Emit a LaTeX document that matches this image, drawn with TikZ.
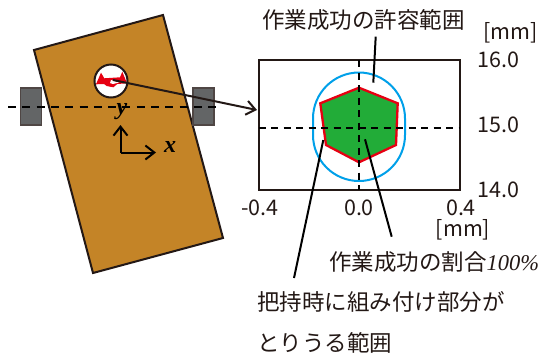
\documentclass[tikz,border=0pt]{standalone}
\usepackage{fontspec}
\setmainfont{Noto Sans CJK JP}
\newfontfamily\latinserif{Liberation Serif}
\usetikzlibrary{arrows.meta}
\definecolor{inkdark}{HTML}{231815}
\definecolor{platebrown}{HTML}{C48427}
\definecolor{grippergray}{HTML}{636566}
\definecolor{regionblue}{HTML}{00A0E9}
\definecolor{regiongreen}{HTML}{22AC38}
\definecolor{regionred}{HTML}{E60012}
\tikzset{
    label/.style={text=inkdark, inner sep=0pt, font=\fontsize{21.5}{24}\selectfont},
    caption/.style={text=inkdark, inner sep=0pt, anchor=west, font=\fontsize{22.5}{24}\selectfont},
    leader/.style={draw=black, line width=2pt},
    crossline/.style={draw=black, line width=2pt, dash pattern=on 7pt off 5.5pt},
    axisarrow/.style={draw=black, line width=2pt, -{Straight Barb[length=9pt,width=14pt,line width=2pt]}},
    axisname/.style={inner sep=0pt, font=\fontsize{24}{24}\latinserif\bfseries\itshape},
}
\begin{document}
\begin{tikzpicture}[x=1pt, y=1pt, yscale=-1]
    \useasboundingbox (0,0) rectangle (541,354);

    \begin{scope}
        \coordinate (A) at (34,50);
        \coordinate (B) at (163,15);
        \coordinate (C) at (223,238);
        \coordinate (D) at (93,273);
        \draw[fill=platebrown, draw=inkdark, line width=2pt] (A)--(B)--(C)--(D)--cycle;
        \draw[fill=grippergray, draw=inkdark!80, line width=1.5pt] (20.5,88) rectangle (41.5,125);
        \draw[fill=grippergray, draw=inkdark!80, line width=1.5pt] (193,88) rectangle (214,125);
        \coordinate (L) at (8,106.5);
        \coordinate (R) at (220,106.5);
        \draw[crossline, dash pattern=on 8pt off 6.3pt] (L) -- (R);

        \draw[fill=white, draw=inkdark, line width=2pt] (111,81) circle (16.5);
        \fill[regionred] (96,84.3) -- (101,72.7) -- (104.3,78.3) -- (120,77.3) -- (122.3,71.7)
            -- (127,83.3) -- (117.3,84) -- (113.3,87.3) -- (106.7,86) -- (104,84) -- cycle;
        \fill[white] (111,80) -- (119,82.5) -- (113,84) -- (110,83) -- cycle;

        % coordinate axes of the plate
        \coordinate (O) at (120.5,152.5);
        \coordinate (X) at (156,152.5);
        \coordinate (Y) at (120.5,125);
        \draw[axisarrow] (O) -- (X);
        \draw[axisarrow] (O) -- (Y);
        \node[axisname] (xname) at (170,147) {x};
        \node[axisname] (yname) at (122,112) {y};
    \end{scope}

    \begin{scope}
        \coordinate (P) at (113,80);
        \coordinate (Q) at (257,110);
        \draw[draw=inkdark, line width=2pt, -{Straight Barb[length=9pt,width=14pt,line width=2pt]}] (P) -- (Q);
    \end{scope}

    \begin{scope}
        \draw[fill=white, draw=inkdark, line width=2pt] (258.5,60) rectangle (459.5,190);
        \draw[regionblue, line width=2pt] (313,118.5) arc (180:360:46) -- (405,135)
            arc (0:180:46) -- cycle;
        \draw[fill=regiongreen, draw=regionred, line width=2.3pt]
            (359,87.7)--(397.7,103.3)--(396,145)--(359,162.3)--(326,145)--(320.3,103.3)--cycle;
        \coordinate (HL) at (258.5,128);
        \coordinate (HR) at (459.5,128);
        \coordinate (VT) at (359,60);
        \coordinate (VB) at (359,190);
        \draw[crossline] (HL) -- (HR);
        \draw[crossline] (VT) -- (VB);

        \node[label, anchor=west] (y16) at (477,60) {16.0};
        \node[label, anchor=west] (y15) at (477,125) {15.0};
        \node[label, anchor=west] (y14) at (477,190) {14.0};
        \node[label, anchor=west] (ymm) at (483,33) {[mm]};
        \node[label] (xm) at (260,208) {-0.4};
        \node[label] (x0) at (359,208) {0.0};
        \node[label] (xp) at (461,208) {0.4};
        \node[label] (xmm) at (463,230) {[mm]};
    \end{scope}

    \node[caption] (permit) at (262,20) {作業成功の許容範囲};
    \node[caption] (rate) at (329,262) {作業成功の割合{\latinserif\itshape 100\%}};
    \node[caption] (grip) at (257,302) {把持時に組み付け部分が};
    \node[caption] (grip2) at (257,343) {とりうる範囲};

    \coordinate (permitend) at (373.3,82.7);
    \coordinate (permitstart) at (375.7,36.7);
    \coordinate (ratestart) at (391.7,236.7);
    \coordinate (rateend) at (365,139.3);
    \coordinate (gripstart) at (294,278);
    \coordinate (gripend) at (323.3,140);
    \draw[leader] (permitstart) -- (permitend);
    \draw[leader] (ratestart) -- (rateend);
    \draw[leader] (gripstart) -- (gripend);
\end{tikzpicture}
\end{document}
